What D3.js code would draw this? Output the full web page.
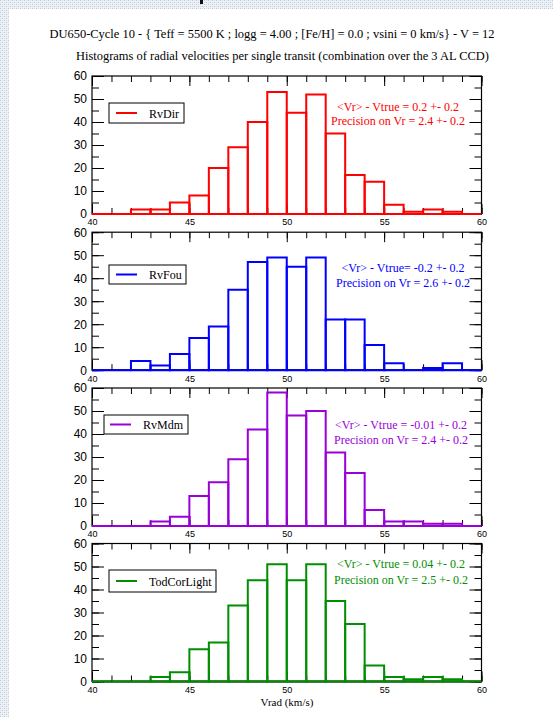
<!DOCTYPE html>
<html>
<head>
<meta charset="utf-8">
<script src="https://cdn.jsdelivr.net/npm/d3@7"></script>
<style>
  html, body { margin: 0; padding: 0; background: #fff; }
  svg { display: block; }
</style>
</head>
<body>
<div id="chart"></div>
<script>
// ---------- DATA ----------
const binEdges = [40,41,42,43,44,45,46,47,48,49,50,51,52,53,54,55,56,57,58,59,60];
const seriesNames = ["RvDir", "RvFou", "RvMdm", "TodCorLight"];
const rvDir   = [0,0,2,2,5,8,20,29,40,53,44,52,35,17,14,4,1,2,1,0];
const rvFou   = [0,0,4,2,7,14,19,35,47,49,45,49,22,22,11,3,0,1,3,0];
const rvMdm   = [0,0,0,2,4,13,19,29,42,58,48,50,32,23,7,2,2,1,1,0];
const todCor  = [0,0,0,2,4,14,17,33,44,51,44,51,35,25,7,2,1,2,1,0];
const biasLines = [
  "<Vr> - Vtrue = 0.2 +- 0.2",
  "<Vr> - Vtrue= -0.2 +- 0.2",
  "<Vr> - Vtrue = -0.01 +- 0.2",
  "<Vr> - Vtrue = 0.04 +- 0.2"
];
const precisionLines = [
  "Precision on Vr = 2.4 +- 0.2",
  "Precision on Vr = 2.6 +- 0.2",
  "Precision on Vr = 2.4 +- 0.2",
  "Precision on Vr = 2.5 +- 0.2"
];
const xMajorTicks = [40,45,50,55,60];
const xMinorTicks = d3.range(40, 61, 1);
const yMajorTicks = [0,10,20,30,40,50,60];
const yMinorTicks = d3.range(0, 61, 5);
const titleText = "DU650-Cycle 10 - { Teff = 5500 K ; logg = 4.00 ; [Fe/H] = 0.0 ; vsini = 0 km/s}  - V = 12";
const subtitleText = "Histograms of radial velocities per single transit (combination over the 3 AL CCD)";
const xAxisTitle = "Vrad (km/s)";

// ---------- LAYOUT / STYLE ----------
const W = 553, H = 717;
const colors = ["#ff0000", "#0000ff", "#9a00d8", "#008f00"];
const allSeries = [rvDir, rvFou, rvMdm, todCor];
const panelTops = [76, 232.2, 388, 543.5];
const panelH = 138;
const legendBoxes = [
  {x:109, y:103, w:75, h:20, lx:116, tx:149},
  {x:109, y:265, w:77, h:19, lx:116, tx:149},
  {x:104, y:415, w:84, h:19, lx:110, tx:143},
  {x:109, y:570, w:107, h:22, lx:116, tx:149}
];
const annot = [
  {cx:398, y1:110.5, y2:125},
  {cx:403, y1:271.5, y2:286.5},
  {cx:401, y1:429, y2:444},
  {cx:401, y1:567.5, y2:584}
];
const serif = "'Liberation Serif', 'Times New Roman', serif";
const sans = "'Liberation Sans', Arial, sans-serif";

const svg = d3.select("#chart").append("svg")
  .attr("width", W).attr("height", H);

// background pattern (page frame)
const defs = svg.append("defs");
const pat = defs.append("pattern").attr("id", "chk")
  .attr("width", 4).attr("height", 4).attr("patternUnits", "userSpaceOnUse");
pat.append("rect").attr("width", 4).attr("height", 4).attr("fill", "#eef2f6");
pat.append("rect").attr("x", 0).attr("y", 0).attr("width", 1).attr("height", 1).attr("fill", "#b9c9d6");
pat.append("rect").attr("x", 2).attr("y", 2).attr("width", 1).attr("height", 1).attr("fill", "#b9c9d6");
pat.append("rect").attr("x", 2).attr("y", 0).attr("width", 1).attr("height", 1).attr("fill", "#d5dfe8");
pat.append("rect").attr("x", 0).attr("y", 2).attr("width", 1).attr("height", 1).attr("fill", "#d5dfe8");
svg.append("rect").attr("width", W).attr("height", H).attr("fill", "url(#chk)");
svg.append("rect").attr("x", 9).attr("y", 9).attr("width", W - 9).attr("height", H - 9).attr("fill", "#fff");
svg.append("rect").attr("x", 200).attr("y", 0).attr("width", 3).attr("height", 4).attr("fill", "#111");

// titles
svg.append("text").attr("x", 272).attr("y", 37.5)
  .attr("text-anchor", "middle")
  .style("font-family", serif).style("font-size", "12.5px").attr("fill", "#000")
  .attr("textLength", 445).attr("lengthAdjust", "spacingAndGlyphs")
  .text(titleText);
svg.append("text").attr("x", 282.5).attr("y", 59.5)
  .attr("text-anchor", "middle")
  .style("font-family", serif).style("font-size", "11.5px").attr("fill", "#000")
  .attr("textLength", 413).attr("lengthAdjust", "spacingAndGlyphs")
  .text(subtitleText);

const x = d3.scaleLinear().domain([40, 60]).range([92, 481.5]);

function styleAxis(g, fontFamily, fontSize) {
  g.select(".domain").remove();
  g.selectAll(".tick line").attr("stroke", "#000").attr("stroke-width", 1);
  g.selectAll(".tick text").attr("fill", "#000")
    .style("font-family", fontFamily).style("font-size", fontSize);
}

allSeries.forEach((vals, i) => {
  const top = panelTops[i];
  const bottom = top + panelH;
  const y = d3.scaleLinear().domain([0, 60]).range([bottom, top]);
  const g = svg.append("g");

  // minor ticks
  g.append("g").attr("transform", `translate(0,${bottom})`)
    .call(d3.axisBottom(x).tickValues(xMinorTicks).tickFormat("").tickSize(-6))
    .call(a => styleAxis(a, sans, "9px"));
  g.append("g").attr("transform", `translate(0,${top})`)
    .call(d3.axisTop(x).tickValues(xMinorTicks).tickFormat("").tickSize(-6))
    .call(a => styleAxis(a, sans, "9px"));
  g.append("g").attr("transform", `translate(${x(40)},0)`)
    .call(d3.axisLeft(y).tickValues(yMinorTicks).tickFormat("").tickSize(-7))
    .call(a => styleAxis(a, sans, "11px"));
  g.append("g").attr("transform", `translate(${x(60)},0)`)
    .call(d3.axisRight(y).tickValues(yMinorTicks).tickFormat("").tickSize(-7))
    .call(a => styleAxis(a, sans, "11px"));

  // major ticks
  g.append("g").attr("transform", `translate(0,${bottom})`)
    .call(d3.axisBottom(x).tickValues(xMajorTicks).tickFormat(d3.format("d")).tickSize(-10).tickPadding(5))
    .call(a => styleAxis(a, sans, "9px"));
  g.append("g").attr("transform", `translate(0,${top})`)
    .call(d3.axisTop(x).tickValues(xMajorTicks).tickFormat("").tickSize(-10))
    .call(a => styleAxis(a, sans, "9px"));
  g.append("g").attr("transform", `translate(${x(40)},0)`)
    .call(d3.axisLeft(y).tickValues(yMajorTicks).tickFormat(d3.format("d")).tickSize(-12).tickPadding(5))
    .call(a => styleAxis(a, sans, "12px"));
  g.append("g").attr("transform", `translate(${x(60)},0)`)
    .call(d3.axisRight(y).tickValues(yMajorTicks).tickFormat("").tickSize(-12))
    .call(a => styleAxis(a, sans, "11px"));

  // frame
  g.append("rect").attr("x", x(40)).attr("y", top)
    .attr("width", x(60) - x(40)).attr("height", panelH)
    .attr("fill", "none").attr("stroke", "#000").attr("stroke-width", 1.2);
  g.append("line").attr("x1", x(40)).attr("x2", x(60))
    .attr("y1", bottom).attr("y2", bottom)
    .attr("stroke", "#000").attr("stroke-width", 1.8);

  // histogram bars (paths so that empty bins still draw a baseline segment)
  const bins = vals.map((v, k) => ({x0: binEdges[k], x1: binEdges[k + 1], v}));
  g.append("g").selectAll("path").data(bins).join("path")
    .attr("d", d => {
      const x0 = x(d.x0), x1 = x(d.x1), y0 = y(0), y1 = y(d.v);
      return `M${x0},${y0}L${x0},${y1}L${x1},${y1}L${x1},${y0}Z`;
    })
    .attr("fill", "none")
    .attr("stroke", colors[i])
    .attr("stroke-width", 2)
    .attr("stroke-linejoin", "miter");

  // legend
  const lb = legendBoxes[i];
  g.append("rect").attr("x", lb.x).attr("y", lb.y).attr("width", lb.w).attr("height", lb.h)
    .attr("fill", "#fff").attr("stroke", "#000").attr("stroke-width", 1);
  g.append("line").attr("x1", lb.lx).attr("x2", lb.lx + 21)
    .attr("y1", lb.y + lb.h / 2).attr("y2", lb.y + lb.h / 2)
    .attr("stroke", colors[i]).attr("stroke-width", 2);
  g.append("text").attr("x", lb.tx).attr("y", lb.y + lb.h / 2 + 4.5)
    .style("font-family", serif).style("font-size", "12px").attr("fill", "#000")
    .text(seriesNames[i]);

  // annotation
  const an = annot[i];
  g.append("text").attr("x", an.cx).attr("y", an.y1).attr("text-anchor", "middle")
    .style("font-family", serif).style("font-size", "12px").attr("fill", colors[i])
    .text(biasLines[i]);
  g.append("text").attr("x", an.cx).attr("y", an.y2).attr("text-anchor", "middle")
    .style("font-family", serif).style("font-size", "12px").attr("fill", colors[i])
    .text(precisionLines[i]);
});

svg.append("text").attr("x", 287).attr("y", 705.5).attr("text-anchor", "middle")
  .style("font-family", serif).style("font-size", "11px").attr("fill", "#000")
  .text(xAxisTitle);
</script>
</body>
</html>
